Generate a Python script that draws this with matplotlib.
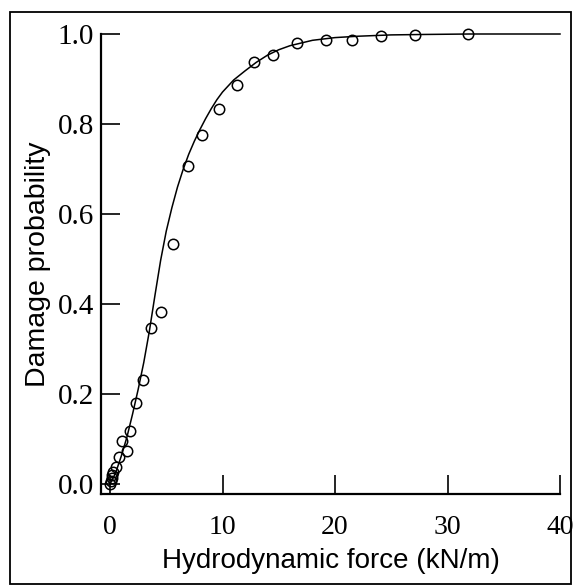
import matplotlib
matplotlib.use('Agg')
import matplotlib.pyplot as plt
from matplotlib.patches import Rectangle

force_obs = [0.0, 0.05, 0.15, 0.2, 0.3, 0.5, 0.77, 1.1, 1.47, 1.75, 2.35, 2.9,
             3.6, 4.5, 5.6, 6.9, 8.2, 9.7, 11.3, 12.8, 14.5, 16.6, 19.2, 21.5,
             24.1, 27.1, 31.8]
prob_obs = [0.0, 0.007, 0.013, 0.02, 0.027, 0.038, 0.06, 0.096, 0.073, 0.118,
            0.18, 0.231, 0.347, 0.382, 0.533, 0.707, 0.776, 0.833, 0.887, 0.938,
            0.953, 0.98, 0.987, 0.987, 0.995, 0.998, 1.0]

# Fitted curve
force_fit = [0, 0.5, 1.0, 1.5, 2.0, 2.5, 3.0, 3.5, 4.0, 4.5, 5.0, 5.5, 6.0, 6.5,
             7.0, 7.5, 8.0, 8.5, 9.0, 9.5, 10, 11, 12, 13, 14, 15, 16, 18, 20,
             22, 25, 28, 32, 36, 40]
prob_fit = [0.0, 0.025, 0.062, 0.104, 0.155, 0.21, 0.27, 0.34, 0.42, 0.497,
            0.562, 0.614, 0.66, 0.699, 0.733, 0.762, 0.788, 0.812, 0.834, 0.854,
            0.871, 0.898, 0.918, 0.937, 0.953, 0.965, 0.974, 0.986, 0.992,
            0.995, 0.998, 0.999, 1.0, 1.0, 1.0]

x_ticks = [0, 10, 20, 30, 40]
x_tick_labels = ['0', '10', '20', '30', '40']
y_ticks = [0.0, 0.2, 0.4, 0.6, 0.8, 1.0]
y_tick_labels = ['0.0', '0.2', '0.4', '0.6', '0.8', '1.0']

W, H = 574, 586
fig = plt.figure(figsize=(W / 100, H / 100), dpi=100)
ax = fig.add_axes([101 / W, 1 - 494 / H, (560 - 101) / W, (494 - 34) / H])

ax.plot(force_fit, prob_fit, color='black', lw=1.1, clip_on=False, zorder=2)
ax.plot(force_obs, prob_obs, 'o', mfc='none', mec='black', ms=7.5, mew=1.1,
        clip_on=False, zorder=3)

ax.set_xlim(-0.8, 40)
ax.set_ylim(-0.022, 1.0)

ax.spines['top'].set_visible(False)
ax.spines['right'].set_visible(False)
for s in ['left', 'bottom']:
    ax.spines[s].set_linewidth(1.6)

ax.set_xticks(x_ticks)
ax.set_xticklabels(x_tick_labels, family='Liberation Serif', fontsize=20)
ax.set_yticks(y_ticks)
ax.set_yticklabels(y_tick_labels, family='Liberation Serif', fontsize=21)
ax.tick_params(axis='both', direction='in', length=14, width=1.2)
ax.tick_params(axis='x', pad=15)
ax.tick_params(axis='y', pad=5)

ax.set_xlabel('Hydrodynamic force (kN/m)', family='Liberation Sans',
              fontsize=20, labelpad=6)
ax.set_ylabel('Damage probability', family='Liberation Sans', fontsize=20.5,
              labelpad=5)

fig.patches.append(Rectangle((10 / W, 1 - 584 / H), (571 - 10) / W,
                             (584 - 12) / H, transform=fig.transFigure,
                             fill=False, lw=1.3, ec='black'))

fig.savefig('out.png', dpi=100)
